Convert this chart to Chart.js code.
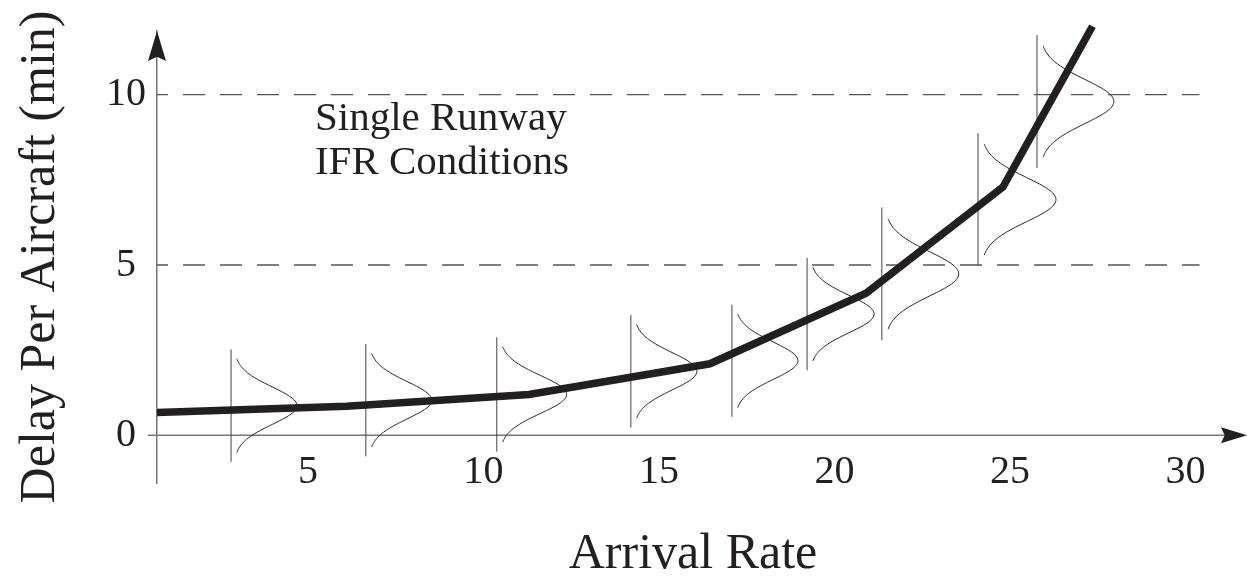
<!DOCTYPE html>
<html>
<head>
<meta charset="utf-8">
<title>Delay per aircraft</title>
<script src="https://cdn.jsdelivr.net/npm/chart.js@4"></script>
<style>
  html, body { margin: 0; padding: 0; background: #fff; }
  canvas { display: block; }
</style>
</head>
<body>
<canvas id="delay" width="1247" height="580"></canvas>
<script>
// Mean delay vs arrival rate
const ARRIVAL_RATE = [0.7, 6.1, 11.3, 16.45, 20.9, 24.8, 27.35];
const DELAY        = [0.67, 0.85, 1.2, 2.1, 4.17, 7.29, 12.01];

// Delay distributions sketched along the curve
const DIST_RATE   = [2.81, 6.65, 10.38, 14.2, 17.08, 19.22, 21.35, 24.09, 25.77];
const DIST_MEAN   = [0.87, 1.03, 1.2, 1.88, 2.19, 3.56, 4.74, 6.92, 9.8];
const DIST_SPREAD = [0.55, 0.55, 0.56, 0.55, 0.55, 0.55, 0.65, 0.65, 0.65];
const DIST_HEIGHT = [1.88, 1.88, 1.99, 1.88, 1.88, 1.91, 2.19, 2.22, 2.19];

// Dashed reference levels
const GUIDE_LEVELS = [5, 10];
const GUIDE_FROM = 0.7;
const GUIDE_TO = 30.4;

// Tick labels
const X_TICKS = [5, 10, 15, 20, 25, 30];
const Y_TICKS = [0, 5, 10];

// Note in the upper left
const NOTE_LINES = ['Single Runway', 'IFR Conditions'];
const NOTE_RATE = 5.2;
const NOTE_DELAY = [8.95, 7.67];

const INK = '#231f20';
const AXIS = '#777';
const SERIF = '"Liberation Serif", "Times New Roman", serif';

function arrowHead(ctx, tipX, tipY, dx, dy, len, half) {
    const bx = tipX - dx * len, by = tipY - dy * len;
    const nx = -dy, ny = dx;
    ctx.beginPath();
    ctx.moveTo(tipX, tipY);
    ctx.lineTo(bx + nx * half, by + ny * half);
    ctx.lineTo(tipX - dx * len * 0.86, tipY - dy * len * 0.86);
    ctx.lineTo(bx - nx * half, by - ny * half);
    ctx.closePath();
    ctx.fill();
}

const sketch = {
    id: 'sketch',
    beforeDatasetsDraw(chart) {
        const { ctx, chartArea, scales: { x, y } } = chart;
        ctx.save();

        // x axis sits on zero delay
        const y0 = y.getPixelForValue(0);
        ctx.strokeStyle = AXIS;
        ctx.lineWidth = 1.5;
        ctx.beginPath();
        ctx.moveTo(chartArea.left - 9, y0);
        ctx.lineTo(chart.width - 12, y0);
        ctx.stroke();

        // sideways bell curves
        DIST_RATE.forEach((rate, i) => {
            const base = x.getPixelForValue(rate);
            const peak = x.getPixelForValue(rate + DIST_HEIGHT[i]) - base;
            const mean = DIST_MEAN[i], sd = DIST_SPREAD[i];

            ctx.strokeStyle = '#444';
            ctx.lineWidth = 1;
            ctx.beginPath();
            ctx.moveTo(base, y.getPixelForValue(mean + 3 * sd));
            ctx.lineTo(base, y.getPixelForValue(mean - 3 * sd));
            ctx.stroke();

            ctx.strokeStyle = INK;
            ctx.beginPath();
            for (let k = -50; k <= 50; k++) {
                const t = k / 20;
                const px = base + 3 + (peak - 3) * Math.exp(-t * t / 2);
                const py = y.getPixelForValue(mean + t * sd);
                if (k === -50) ctx.moveTo(px, py); else ctx.lineTo(px, py);
            }
            ctx.stroke();
        });
        ctx.restore();
    },
    afterDraw(chart) {
        const { ctx, chartArea, scales: { x, y } } = chart;
        ctx.save();
        ctx.fillStyle = INK;
        arrowHead(ctx, chartArea.left, chartArea.top, 0, -1, 30, 9);
        arrowHead(ctx, chart.width, y.getPixelForValue(0), 1, 0, 26, 8);

        ctx.font = '41px ' + SERIF;
        ctx.textAlign = 'left';
        ctx.textBaseline = 'alphabetic';
        NOTE_LINES.forEach((line, i) => {
            ctx.fillText(line, x.getPixelForValue(NOTE_RATE), y.getPixelForValue(NOTE_DELAY[i]));
        });
        ctx.restore();
    }
};

const curve = ARRIVAL_RATE.map((r, i) => ({ x: r, y: DELAY[i] }));
const guides = GUIDE_LEVELS.map(level => ({
    data: [{ x: GUIDE_FROM, y: level }, { x: GUIDE_TO, y: level }],
    borderColor: '#555',
    borderWidth: 1.3,
    borderDash: [22, 15],
    borderDashOffset: 11,
    pointRadius: 0
}));

new Chart(document.getElementById('delay'), {
    type: 'line',
    data: {
        datasets: [
            {
                data: curve,
                borderColor: INK,
                borderWidth: 7.5,
                borderJoinStyle: 'miter',
                pointRadius: 0,
                clip: false
            },
            ...guides
        ]
    },
    options: {
        responsive: false,
        animation: false,
        layout: { padding: { top: 28, right: 18, left: 0, bottom: 0 } },
        plugins: {
            legend: { display: false },
            tooltip: { enabled: false }
        },
        scales: {
            x: {
                type: 'linear',
                min: 0.7,
                max: 31.24,
                grid: { display: false, drawTicks: false },
                border: { display: false },
                afterBuildTicks: s => { s.ticks = X_TICKS.map(v => ({ value: v })); },
                afterFit: s => { s.height = 97; },
                ticks: {
                    // mirrored so the labels may sit just under the zero line
                    mirror: true,
                    padding: -9,
                    maxRotation: 0,
                    autoSkip: false,
                    color: INK,
                    font: { family: SERIF, size: 40, lineHeight: 1 }
                },
                title: {
                    display: true,
                    text: 'Arrival Rate',
                    color: INK,
                    padding: 0,
                    font: { family: SERIF, size: 50, lineHeight: 1 }
                }
            },
            y: {
                type: 'linear',
                min: -1.4,
                max: 11.87,
                grid: { display: false, drawTicks: false },
                border: { display: true, color: AXIS, width: 1.5 },
                afterBuildTicks: s => { s.ticks = Y_TICKS.map(v => ({ value: v })); },
                afterFit: s => { s.width = 157; },
                ticks: {
                    padding: 11,
                    crossAlign: 'center',
                    color: INK,
                    font: { family: SERIF, size: 40, lineHeight: 1 }
                },
                title: {
                    display: true,
                    text: 'Delay Per Aircraft (min)',
                    color: INK,
                    padding: { top: 16, bottom: 0 },
                    font: { family: SERIF, size: 50, lineHeight: 1 }
                }
            }
        }
    },
    plugins: [sketch]
});
</script>
</body>
</html>
